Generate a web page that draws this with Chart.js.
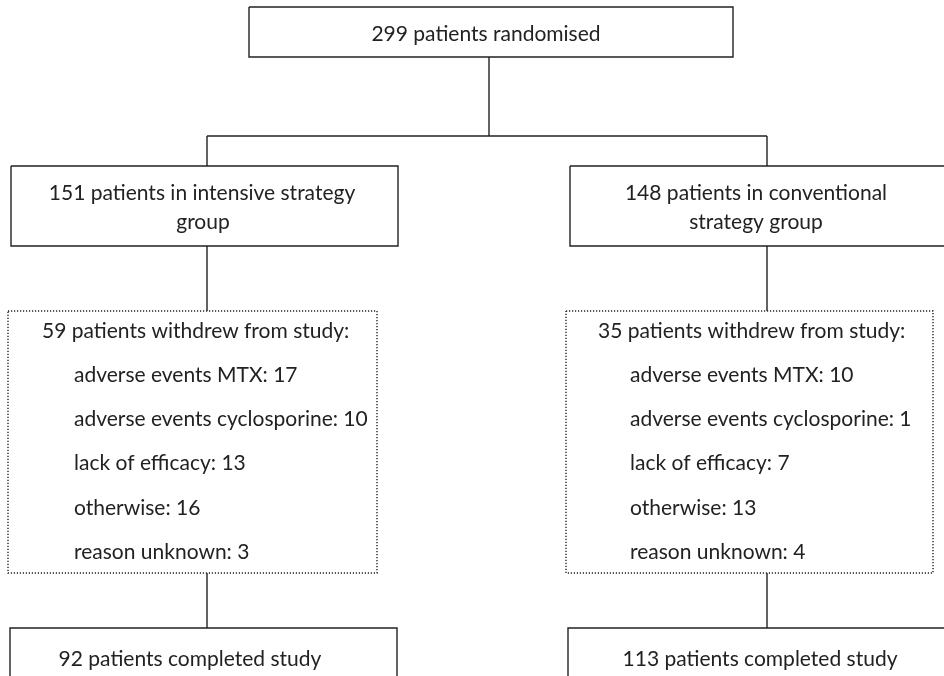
<!DOCTYPE html>
<html>
<head>
<meta charset="utf-8">
<script src="https://cdn.jsdelivr.net/npm/chart.js@4"></script>
<style>
  html, body { margin: 0; padding: 0; background: #fff; }
  #wrap { width: 944px; height: 676px; }
</style>
</head>
<body>
<div id="wrap"><canvas id="flow" width="944" height="676"></canvas></div>
<script>
// Trial flow: counts per arm
const arms = ['intensive strategy group', 'conventional strategy group'];
const randomised = 299;
const allocated = [151, 148];
const withdrew = [59, 35];
const reasons = ['adverse events MTX', 'adverse events cyclosporine', 'lack of efficacy', 'otherwise', 'reason unknown'];
const intensiveReasons = [17, 10, 13, 16, 3];
const conventionalReasons = [10, 1, 7, 13, 4];
const completed = [92, 113];

// Layout in diagram units (same as the 944x676 page)
const topBox = { x0: 249, x1: 733, y0: 7, y1: 57 };
const stemX = 489;
const armX = [207, 767];
const splitY = 136;
const allocBoxes = [{ x0: 11, x1: 398, y0: 166, y1: 246 }, { x0: 570, x1: 946, y0: 166, y1: 246 }];
const withdrawBoxes = [{ x0: 8, x1: 377, y0: 311, y1: 573 }, { x0: 566, x1: 933, y0: 311, y1: 573 }];
const completeBoxes = [{ x0: 10, x1: 397, y0: 628, y1: 700 }, { x0: 568, x1: 946, y0: 628, y1: 700 }];

const INK = '#222';
const FONT = '21px "Lato", sans-serif';

function rectPath(b, open) {
    // open = no bottom edge (box runs off the page)
    if (open) return [{ x: b.x0, y: b.y1 }, { x: b.x0, y: b.y0 }, { x: b.x1, y: b.y0 }, { x: b.x1, y: b.y1 }];
    return [{ x: b.x0, y: b.y0 }, { x: b.x1, y: b.y0 }, { x: b.x1, y: b.y1 }, { x: b.x0, y: b.y1 }, { x: b.x0, y: b.y0 }];
}

const datasets = [];
const solid = (points) => datasets.push({ data: points, borderDash: [] });
const dotted = (points) => datasets.push({ data: points, borderDash: [1.2, 1.8] });

solid(rectPath(topBox));
allocBoxes.forEach(b => solid(rectPath(b)));
withdrawBoxes.forEach(b => dotted(rectPath(b)));
completeBoxes.forEach(b => solid(rectPath(b, true)));

// connectors
solid([{ x: stemX, y: topBox.y1 }, { x: stemX, y: splitY }]);
solid([{ x: armX[0], y: splitY }, { x: armX[1], y: splitY }]);
armX.forEach((x, i) => {
    solid([{ x, y: splitY }, { x, y: allocBoxes[i].y0 }]);
    solid([{ x, y: allocBoxes[i].y1 }, { x, y: withdrawBoxes[i].y0 }]);
    solid([{ x, y: withdrawBoxes[i].y1 }, { x, y: completeBoxes[i].y0 }]);
});

datasets.forEach(d => Object.assign(d, {
    showLine: true,
    borderColor: INK,
    borderWidth: 1.4,
    pointRadius: 0,
    fill: false,
    tension: 0,
    clip: false,
}));

// Text labels drawn on top, positioned through the chart scales
const labelsPlugin = {
    id: 'flowLabels',
    afterDatasetsDraw(chart) {
        const { ctx, scales: { x, y } } = chart;
        ctx.save();
        ctx.fillStyle = INK;
        ctx.font = FONT;
        ctx.textBaseline = 'middle';

        const center = (txt, cx, cy) => {
            ctx.textAlign = 'center';
            ctx.fillText(txt, x.getPixelForValue(cx), y.getPixelForValue(cy));
        };
        const left = (txt, lx, ly) => {
            ctx.textAlign = 'left';
            ctx.fillText(txt, x.getPixelForValue(lx), y.getPixelForValue(ly));
        };

        center(randomised + ' patients randomised', 486, 34);

        center(allocated[0] + ' patients in intensive strategy', 202, 193);
        center('group', 203, 222);
        center(allocated[1] + ' patients in conventional', 756, 193);
        center('strategy group', 756, 222);

        const reasonSets = [intensiveReasons, conventionalReasons];
        const textX = [42, 598];
        withdrawBoxes.forEach((b, i) => {
            left(withdrew[i] + ' patients withdrew from study:', textX[i], 331);
            reasons.forEach((r, j) => {
                left(r + ': ' + reasonSets[i][j], textX[i] + 32, 375 + j * 44.3);
            });
        });

        center(completed[0] + ' patients completed study', 190, 659);
        center(completed[1] + ' patients completed study', 760, 659);
        ctx.restore();
    }
};

new Chart(document.getElementById('flow').getContext('2d'), {
    type: 'scatter',
    data: { datasets },
    options: {
        responsive: false,
        animation: false,
        layout: { padding: 0 },
        plugins: { legend: { display: false }, tooltip: { enabled: false } },
        scales: {
            x: { type: 'linear', min: 0, max: 944, display: false },
            y: { type: 'linear', min: 0, max: 676, reverse: true, display: false },
        },
    },
    plugins: [labelsPlugin],
});
</script>
</body>
</html>
